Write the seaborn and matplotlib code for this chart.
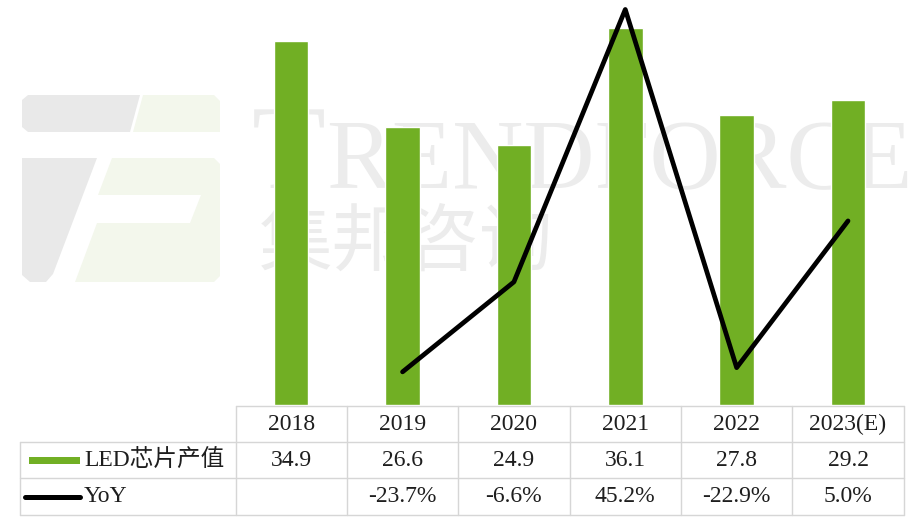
import numpy as np
import pandas as pd
import matplotlib
matplotlib.use("Agg")
import matplotlib.pyplot as plt
import matplotlib.transforms as mtransforms
from matplotlib.patches import Polygon
from matplotlib.lines import Line2D
import seaborn as sns

# ---- data ----
years = ["2018", "2019", "2020", "2021", "2022", "2023(E)"]
output_value = [34.9, 26.6, 24.9, 36.1, 27.8, 29.2]
yoy = [None, -23.7, -6.6, 45.2, -22.9, 5.0]
series_labels = ["LED芯片产值", "YoY"]

BAR_GREEN = "#71af24"
GRID_GRAY = "#d6d6d6"
WM_GRAY = "#e9e9e9"
WM_TEXT = "#ececec"
WM_GREEN = "#f3f7ec"

sns.set_theme(style="white")
plt.rcParams["font.family"] = ["Liberation Serif", "Noto Sans CJK SC", "DejaVu Sans"]

W, H = 911, 519
fig = plt.figure(figsize=(W / 100, H / 100), dpi=100)
fig.patch.set_facecolor("white")


def fx(px):
    return px / W


def fy(py):
    return 1 - py / H


# ---- watermark (logo + wordmark), drawn beneath the axes ----
WM_Z = -10


def wm_poly(pts, color):
    fig.patches.append(Polygon([(fx(x), fy(y)) for x, y in pts], closed=True,
                               transform=fig.transFigure, facecolor=color,
                               edgecolor="none", zorder=WM_Z))

wm_poly([(28, 95), (140, 95), (130, 132), (28, 132), (22, 127), (22, 100)], WM_GRAY)
wm_poly([(143, 95), (214, 95), (220, 101), (220, 132), (133, 132)], WM_GREEN)
wm_poly([(22, 158), (97, 158), (53, 274), (46, 282), (30, 282), (22, 275)], WM_GRAY)
wm_poly([(112, 158), (214, 158), (220, 164), (220, 276), (214, 282), (75, 282),
         (97, 223), (190, 223), (201, 195), (98, 195)], WM_GREEN)

fig.text(fx(252), fy(188), "T", fontsize=87, color=WM_TEXT, ha="left",
         va="baseline", family="Liberation Serif", zorder=WM_Z)
fig.text(fx(326), fy(188), "RENDFORCE", fontsize=71, color=WM_TEXT, ha="left",
         va="baseline", family="Liberation Serif", zorder=WM_Z)
fig.text(fx(259), fy(244), "集邦咨询", fontsize=53, color=WM_TEXT, ha="left",
         va="center", family=["Noto Sans CJK SC"], fontweight="light", zorder=WM_Z)

# ---- main axes ----
ax = fig.add_axes([fx(235.5), fy(405), fx(903.7) - fx(235.5), fy(0) - fy(405)])
ax.set_zorder(1)
ax.patch.set_alpha(0)

df = pd.DataFrame({"year": years, "value": output_value})
sns.barplot(data=df, x="year", y="value", color=BAR_GREEN, width=0.31,
            saturation=1, ax=ax, zorder=2)
ax.set_xlim(-0.5, len(years) - 0.5)
ax.set_ylim(0, 38.8)

ax2 = ax.twinx()
ax2.set_zorder(2)
ax2.patch.set_alpha(0)
line_df = pd.DataFrame({"pos": np.arange(len(years)), "yoy": yoy}).dropna()
sns.lineplot(data=line_df, x="pos", y="yoy", color="black", linewidth=3.4,
             ax=ax2, sort=False, zorder=3)
ax2.set_ylim(-30, 47)
ax2.set_xlim(-0.5, len(years) - 0.5)

for a in (ax, ax2):
    a.set_xlabel("")
    a.set_ylabel("")
    a.set_xticks([])
    a.set_yticks([])
    for s in a.spines.values():
        s.set_visible(False)

# ---- data table below the plot ----
col_tf = mtransforms.blended_transform_factory(ax.transData, fig.transFigure)
row_lines = [406, 442, 478, 515]
row_centers = [424, 460, 497]
edges = np.arange(len(years) + 1) - 0.5

line_kw = dict(color=GRID_GRAY, linewidth=1.0, zorder=1)
# vertical column separators
for e in edges:
    fig.add_artist(Line2D([e, e], [fy(row_lines[0]), fy(row_lines[-1])],
                          transform=col_tf, **line_kw))
# header top line spans only the value columns
fig.add_artist(Line2D([edges[0], edges[-1]], [fy(row_lines[0])] * 2,
                      transform=col_tf, **line_kw))
# remaining horizontal lines span the legend column too
x_left = fx(20)
x_right = ax.transData.transform((edges[-1], 0))[0] / W
for r in row_lines[1:]:
    fig.add_artist(Line2D([x_left, x_right], [fy(r)] * 2,
                          transform=fig.transFigure, **line_kw))
fig.add_artist(Line2D([x_left, x_left], [fy(row_lines[1]), fy(row_lines[-1])],
                      transform=fig.transFigure, **line_kw))

txt_kw = dict(fontsize=17, color="#1e1e1e", ha="center", va="center")
for i, yr in enumerate(years):
    fig.text(i, fy(row_centers[0]), yr, transform=col_tf, **txt_kw)
    fig.text(i, fy(row_centers[1]), f"{output_value[i]:.1f}", transform=col_tf, **txt_kw)
    if yoy[i] is not None:
        fig.text(i, fy(row_centers[2]), f"{yoy[i]:.1f}%", transform=col_tf, **txt_kw)

# legend keys inside the table
fig.patches.append(plt.Rectangle((fx(29), fy(464)), fx(80) - fx(29), fy(457) - fy(464),
                                 transform=fig.transFigure, facecolor=BAR_GREEN,
                                 edgecolor="none", zorder=2))
fig.add_artist(Line2D([fx(25), fx(80)], [fy(497), fy(497)], color="black",
                      linewidth=3.6, solid_capstyle="round", transform=fig.transFigure))
fig.text(fx(84), fy(row_centers[1]), series_labels[0], fontsize=17, color="#1e1e1e",
         ha="left", va="center")
fig.text(fx(84), fy(row_centers[2]), series_labels[1], fontsize=17, color="#1e1e1e",
         ha="left", va="center")

fig.savefig("out.png", dpi=100, facecolor="white")
